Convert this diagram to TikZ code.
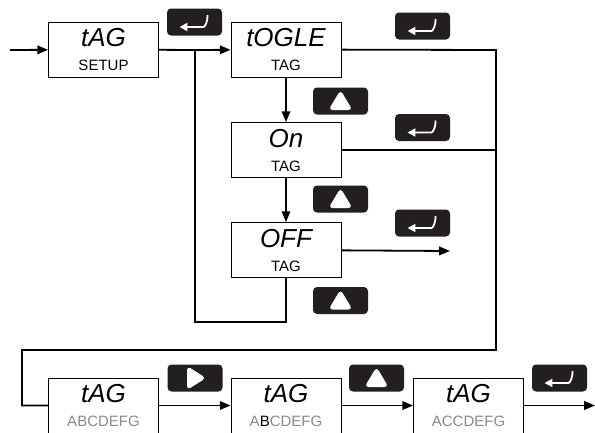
\documentclass[tikz,border=0pt]{standalone}
\usepackage{fontspec}
\setmainfont{Liberation Sans}
\usetikzlibrary{arrows.meta,calc}
\definecolor{keyfill}{HTML}{231F20}
\definecolor{lcdgray}{HTML}{8A8A8A}
\newcommand{\lcdtop}[1]{{\fontsize{26}{26}\selectfont\itshape #1}}
\newcommand{\lcdsub}[1]{{\fontsize{15}{26}\selectfont #1}}
\tikzset{
  >={Triangle[length=3.8mm,width=3mm]},
  lcd/.style={draw=black,line width=0.8pt,minimum width=110pt,minimum height=55pt,
    inner sep=0pt,align=center,font=\fontsize{15}{24}\selectfont},
  key/.style={fill=keyfill,rounded corners=4pt,minimum width=55pt,minimum height=27pt,
    inner sep=0pt},
  enterkey/.style={key,path picture={
    \draw[white,line width=1.8pt,-{Triangle[length=2.8mm,width=2.8mm]},
      shift={(path picture bounding box.center)}]
      (13,-7) to[out=-85,in=0] (5,5) -- (-15,5);}},
  upkey/.style={key,path picture={
    \fill[white,shift={(path picture bounding box.center)}]
      (-12,9) -- (12,9) -- (0,-11) -- cycle;}},
  rightkey/.style={key,path picture={
    \fill[white,shift={(path picture bounding box.center)}]
      (-8,-12) -- (-8,12) -- (11,0) -- cycle;}},
  flow/.style={line width=1.8pt},
  flowarr/.style={flow,->},
}

\begin{document}
\begin{tikzpicture}[x=1pt,y=-1pt]
  \clip (0,0) rectangle (595,432);
  \useasboundingbox (0,0) rectangle (595,432);
  % menu boxes
  \node[lcd] (setup) at (103.5,49.5) {\lcdtop{tAG}\\\lcdsub{SETUP}};
  \node[lcd] (togle) at (286,49.5) {\lcdtop{tOGLE}\\\lcdsub{TAG}};
  \node[lcd] (on) at (286,150) {\lcdtop{On}\\\lcdsub{TAG}};
  \node[lcd] (off) at (286,250) {\lcdtop{OFF}\\\lcdsub{TAG}};
  \node[lcd] (taga) at (103.5,405.5) {\lcdtop{tAG}\\\lcdsub{\color{lcdgray}ABCDEFG}};
  \node[lcd] (tagb) at (286,405.5)
    {\lcdtop{tAG}\\\lcdsub{\color{lcdgray}A\textcolor{black}{B}CDEFG}};
  \node[lcd] (tagc) at (468.5,405.5) {\lcdtop{tAG}\\\lcdsub{\color{lcdgray}ACCDEFG}};
  % keys
  \node[enterkey] (ent1) at (194.5,22) {};
  \node[enterkey] (ent2) at (422.5,26) {};
  \node[upkey] (up1) at (340.5,101) {};
  \node[enterkey] (ent3) at (422.5,127.5) {};
  \node[upkey] (up2) at (340.5,199) {};
  \node[enterkey] (ent4) at (422.5,223) {};
  \node[upkey] (up3) at (340.5,300.5) {};
  \node[rightkey] (rt1) at (195,378) {};
  \node[upkey] (up4) at (376.5,378) {};
  \node[enterkey] (ent5) at (559.5,378) {};
  % junctions
  \coordinate (start) at (10,50);
  \coordinate (j1) at (195,50);
  \coordinate (jr) at (496,50);
  \coordinate (loopbot) at (195,322);
  \coordinate (ret) at (22,350);
  \coordinate (offout) at (450,251);
  \coordinate (endout) at (595,405.5);
  % connectors
  \draw[flowarr] (start) -- (setup);
  \draw[flow] (setup) -- (j1);
  \draw[flowarr] (j1) -- (togle);
  \draw[flow] (off.south) |- (loopbot) -- (j1);
  \draw[flowarr] (togle) -- (on);
  \draw[flowarr] (on) -- (off);
  \draw[flowarr] (off) -- (offout);
  \draw[flow] (on.east) -- (on.east -| jr);
  \draw[flow] (togle) -- (jr) |- (ret) |- (taga);
  \draw[flowarr] (taga) -- (tagb);
  \draw[flowarr] (tagb) -- (tagc);
  \draw[flowarr] (tagc) -- (endout);
\end{tikzpicture}
\end{document}
